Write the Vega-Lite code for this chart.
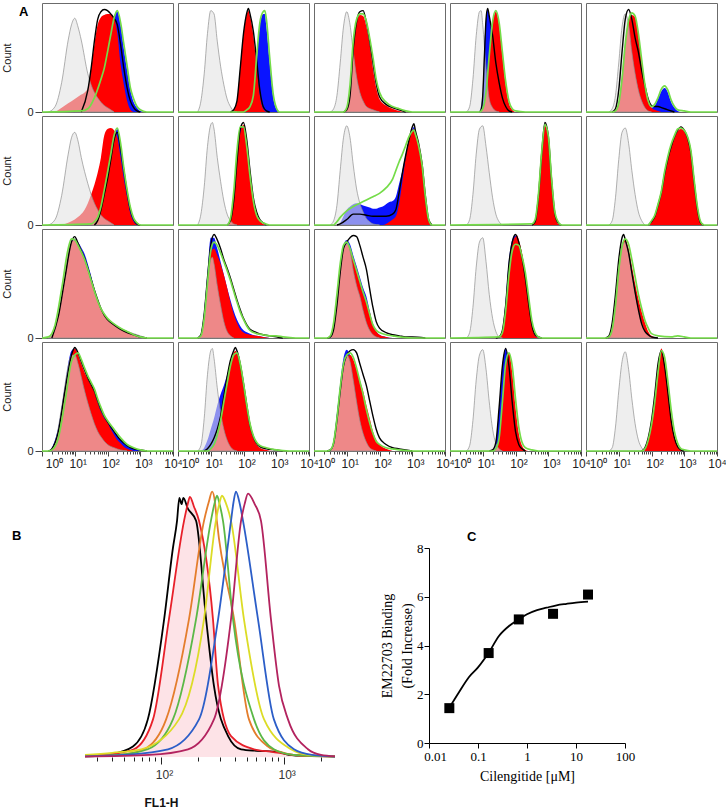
{
"$schema": "https://vega.github.io/schema/vega-lite/v6.json",
"background": "white",
"padding": {"left": 1, "top": 2, "right": 0, "bottom": 0},
"title": {"text": "A", "anchor": "start", "frame": "bounds", "dx": 17, "dy": 14, "offset": -12, "baseline": "alphabetic", "font": "Liberation Sans", "fontSize": 13, "fontWeight": "bold", "color": "#000"},
"datasets": {
"h": [
{"c":"HUVEC","i":"avb3","s":"g","x":[1.58,2.51,3.98,6.31,7.94,10,12.6,15.8,25.1,31.6,39.8,50.1,63.1,79.4,100,126,158],"y":[0,5,27,66,80,86,78,66,35,25,18,13,9,6,4,2,0]},
{"c":"HUVEC","i":"avb3","s":"r","x":[2.51,3.98,6.31,10,15.8,20,25.1,31.6,39.8,50.1,63.1,79.4,100,126,158,200,251,316,398,501,631],"y":[0,4,8,12,16,18,22,40,62,80,87,89,90,90,87,72,44,25,10,2,0]},
{"c":"HUVEC","i":"avb3","s":"b","x":[25.1,31.6,39.8,50.1,63.1,79.4,100,126,158,200,251,316,398,501,631,794,1000,1585],"y":[0,3,10,20,35,45,60,75,88,92,80,58,38,20,9,4,1,0]},
{"c":"HUVEC","i":"avb3","s":"k","x":[15.8,25.1,31.6,39.8,50.1,63.1,79.4,100,126,158,200,251,316,398,501,631,794,1000],"y":[0,20,40,65,85,92,94,93,90,86,80,62,40,22,10,4,1,0]},
{"c":"HUVEC","i":"avb3","s":"n","x":[1,15.8,25.1,39.8,63.1,79.4,100,126,158,200,251,316,398,501,631,794,1000,1585,10000],"y":[0,1,3,13,30,40,55,71,86,93,82,62,42,22,12,5,2,0,0]},
{"c":"M21","i":"avb3","s":"g","x":[3.98,5.01,6.31,7.94,10,12.6,15.8,20,25.1,31.6,39.8,50.1,63.1],"y":[0,10,35,72,93,90,65,42,25,12,5,1,0]},
{"c":"M21","i":"avb3","s":"r","x":[39.8,50.1,63.1,79.4,100,126,141,158,200,251,316,398,501],"y":[0,2,10,40,72,90,93,88,70,42,15,3,0]},
{"c":"M21","i":"avb3","s":"b","x":[126,158,200,251,316,398,447,501,631,794,1000,1259],"y":[0,2,10,45,80,90,90,78,45,15,3,0]},
{"c":"M21","i":"avb3","s":"k","x":[39.8,50.1,63.1,79.4,100,126,141,158,200,251,316,398,501,631],"y":[0,2,10,40,72,91,95,90,74,48,20,5,1,0]},
{"c":"M21","i":"avb3","s":"n","x":[1,100,126,158,200,251,316,398,447,501,631,794,1000,1259,10000],"y":[0,0,2,5,15,50,82,92,93,85,50,18,4,0,0]},
{"c":"A549","i":"avb3","s":"g","x":[3.16,3.98,5.01,6.31,7.94,10,12.6,15.8,20,25.1,31.6,39.8,63.1,100],"y":[0,3,15,45,78,92,80,55,32,18,10,5,2,0]},
{"c":"A549","i":"avb3","s":"r","x":[7.94,10,12.6,15.8,20,25.1,31.6,39.8,50.1,63.1,79.4,100,158,251,398,631],"y":[0,2,15,60,82,89,88,78,62,40,22,12,6,3,1,0]},
{"c":"A549","i":"avb3","s":"k","x":[7.94,10,12.6,15.8,20,25.1,31.6,39.8,50.1,63.1,79.4,100,158,251,398,631],"y":[0,2,15,58,83,92,93,82,65,45,26,14,7,4,2,0]},
{"c":"A549","i":"avb3","s":"n","x":[1,7.94,10,12.6,15.8,20,25.1,31.6,39.8,50.1,63.1,79.4,100,158,251,398,631,1000,10000],"y":[0,0,4,25,65,85,90,90,83,68,50,30,18,9,5,3,1,0,0]},
{"c":"HT29","i":"avb3","s":"g","x":[3.16,3.98,5.01,6.31,7.94,8.91,10,12.6,15.8,20,25.1,31.6],"y":[0,5,30,70,92,93,80,40,12,4,1,0]},
{"c":"HT29","i":"avb3","s":"b","x":[7.94,10,11.2,12.6,14.1,15.8,20,25.1,31.6,39.8,50.1,63.1],"y":[0,20,60,85,94,88,65,35,15,5,1,0]},
{"c":"HT29","i":"avb3","s":"r","x":[7.94,10,12.6,15.8,20,25.1,31.6,39.8,50.1,63.1,79.4,100],"y":[0,3,20,55,82,92,80,52,25,8,2,0]},
{"c":"HT29","i":"avb3","s":"k","x":[7.94,8.91,10,11.2,12.6,14.1,15.8,20,25.1,31.6,39.8,50.1,63.1,79.4],"y":[0,2,15,50,85,95,88,70,45,27,13,5,1,0]},
{"c":"HT29","i":"avb3","s":"n","x":[1,7.94,10,12.6,15.8,20,25.1,31.6,39.8,50.1,63.1,79.4,100,200,10000],"y":[0,0,3,18,52,83,93,82,55,28,10,3,1,0,0]},
{"c":"M24met","i":"avb3","s":"g","x":[5.01,6.31,7.94,10,12.6,15.8,20,25.1,31.6,39.8,50.1,63.1,79.4,100],"y":[0,3,15,45,78,90,80,55,35,20,10,4,1,0]},
{"c":"M24met","i":"avb3","s":"b","x":[7.94,10,12.6,15.8,20,25.1,31.6,39.8,50.1,63.1,79.4,100,126,158,200,251,316,398,501,631,794],"y":[0,8,30,60,80,85,82,65,40,20,9,4,6,12,19,22,18,9,4,1,0]},
{"c":"M24met","i":"avb3","s":"r","x":[6.31,7.94,10,12.6,15.8,20,25.1,31.6,39.8,50.1,63.1,79.4,100,126,200],"y":[0,2,10,35,65,85,89,87,70,45,22,10,4,2,0]},
{"c":"M24met","i":"avb3","s":"k","x":[6.31,7.94,10,12.6,15.8,20,25.1,31.6,39.8,50.1,63.1,79.4,100,126,158,200,316,501],"y":[0,3,20,55,85,94,85,68,55,38,24,12,6,5,5,4,2,0]},
{"c":"M24met","i":"avb3","s":"n","x":[1,6.31,7.94,10,12.6,15.8,20,25.1,31.6,39.8,50.1,63.1,79.4,100,126,158,200,251,316,398,501,631,1000,1585,10000],"y":[0,0,1,8,30,62,84,91,88,72,48,25,10,5,7,13,21,24,20,11,5,2,1,0,0]},
{"c":"HUVEC","i":"avb5","s":"g","x":[1.58,2.51,3.98,6.31,7.94,10,12.6,15.8,25.1,31.6,39.8,50.1,63.1,79.4,100,126,158],"y":[0,5,27,65,80,85,77,62,38,28,20,14,9,6,4,2,0]},
{"c":"HUVEC","i":"avb5","s":"r","x":[3.98,6.31,10,15.8,20,25.1,31.6,39.8,50.1,63.1,79.4,100,126,158,200,251,316,398,501,631,794],"y":[0,2,5,10,14,20,28,37,48,62,82,88,89,87,80,62,42,25,10,3,0]},
{"c":"HUVEC","i":"avb5","s":"b","x":[39.8,50.1,63.1,79.4,100,126,158,200,251,316,398,501,631,794,1000],"y":[0,5,15,30,45,62,80,88,72,50,30,14,5,1,0]},
{"c":"HUVEC","i":"avb5","s":"k","x":[39.8,50.1,63.1,79.4,100,126,158,200,251,316,398,501,631,794,1000],"y":[0,4,14,28,42,60,78,85,70,50,30,14,5,1,0]},
{"c":"HUVEC","i":"avb5","s":"n","x":[1,31.6,39.8,50.1,63.1,79.4,100,126,158,200,251,316,398,501,631,794,1000,10000],"y":[0,1,3,7,17,32,48,65,82,89,75,52,32,16,6,2,0,0]},
{"c":"M21","i":"avb5","s":"g","x":[3.98,5.01,6.31,7.94,10,11.2,12.6,15.8,20,25.1,31.6,39.8,50.1,63.1],"y":[0,10,35,72,92,94,88,62,40,22,10,4,1,0]},
{"c":"M21","i":"avb5","s":"b","x":[31.6,39.8,50.1,63.1,79.4,100,126,158,200,251,316,398],"y":[0,5,28,65,90,90,72,45,20,8,3,0]},
{"c":"M21","i":"avb5","s":"r","x":[31.6,39.8,50.1,63.1,79.4,100,126,158,200,251,316,398,501],"y":[0,5,25,60,85,92,75,48,22,10,4,1,0]},
{"c":"M21","i":"avb5","s":"k","x":[31.6,39.8,50.1,63.1,79.4,100,126,158,200,251,316,398,501],"y":[0,4,22,58,88,94,78,50,25,12,5,2,0]},
{"c":"M21","i":"avb5","s":"n","x":[1,31.6,39.8,50.1,63.1,79.4,100,126,158,200,251,316,398,631,10000],"y":[0,0,6,30,68,90,90,72,45,22,9,4,2,0,0]},
{"c":"A549","i":"avb5","s":"g","x":[3.16,3.98,5.01,6.31,7.94,10,12.6,15.8,20,25.1,31.6,39.8,50.1,63.1,100],"y":[0,4,18,50,80,91,80,55,33,20,12,6,3,1,0]},
{"c":"A549","i":"avb5","s":"b","x":[5.01,6.31,7.94,10,12.6,15.8,20,25.1,31.6,39.8,50.1,63.1,79.4,100,126,158,200,251,316,398,501,631,794,1000,1122,1259,1585,1995,2512,3162,3981],"y":[0,2,8,14,17,19,20,19,18,17,16,15,15,16,17,19,21,22,26,38,50,65,78,88,90,85,72,55,25,4,0]},
{"c":"A549","i":"avb5","s":"r","x":[126,158,200,251,316,398,501,631,794,1000,1122,1259,1585,1995,2512,3162,3981],"y":[0,1,3,5,8,20,40,62,78,87,88,84,72,55,25,4,0]},
{"c":"A549","i":"avb5","s":"k","x":[5.01,6.31,10,15.8,25.1,39.8,63.1,100,158,251,316,398,501,631,794,1000,1122,1259,1585,1995,2512,3162,3981],"y":[0,1,5,10,10,9,8,8,8,10,14,30,48,64,78,90,93,86,74,56,27,5,0]},
{"c":"A549","i":"avb5","s":"n","x":[1,3.98,5.01,6.31,10,15.8,25.1,39.8,63.1,100,158,251,316,398,501,631,794,1000,1122,1259,1585,1995,2512,3162,3981,10000],"y":[0,0,3,7,13,17,20,23,26,29,34,42,50,58,65,73,81,86,87,83,72,55,26,5,0,0]},
{"c":"HT29","i":"avb5","s":"g","x":[3.16,3.98,5.01,6.31,7.94,10,12.6,15.8,20,25.1,31.6,39.8],"y":[0,5,28,65,88,91,72,48,25,10,3,0]},
{"c":"HT29","i":"avb5","s":"r","x":[316,398,501,631,794,1000,1259,1585,1995,2512],"y":[0,3,25,65,91,80,40,10,1,0]},
{"c":"HT29","i":"avb5","s":"k","x":[316,398,501,631,794,1000,1259,1585,1995,2512],"y":[0,3,26,66,94,82,42,11,2,0]},
{"c":"HT29","i":"avb5","s":"n","x":[1,316,398,501,631,794,1000,1259,1585,1995,2512,10000],"y":[0,1,5,28,67,92,82,43,12,3,0,0]},
{"c":"M24met","i":"avb5","s":"g","x":[5.01,6.31,7.94,10,12.6,15.8,20,25.1,31.6,39.8,50.1,63.1],"y":[0,4,25,60,85,89,75,50,28,12,4,0]},
{"c":"M24met","i":"avb5","s":"r","x":[79.4,100,126,158,200,251,316,398,501,631,794,1000,1259,1585,1995,2512,3162,3981],"y":[0,3,8,18,30,48,62,72,80,86,88,86,80,68,40,15,2,0]},
{"c":"M24met","i":"avb5","s":"k","x":[79.4,100,126,158,200,251,316,398,501,631,794,1000,1259,1585,1995,2512,3162,3981],"y":[0,3,8,18,30,47,61,72,81,87,90,87,80,67,40,15,2,0]},
{"c":"M24met","i":"avb5","s":"n","x":[1,79.4,100,126,158,200,251,316,398,501,631,794,1000,1259,1585,1995,2512,3162,3981,10000],"y":[0,0,4,9,19,31,49,63,74,82,88,89,87,81,69,42,17,3,0,0]},
{"c":"HUVEC","i":"avb6","s":"b","x":[2,3.16,5.01,7.94,10,12.6,15.8,20,25.1,31.6,39.8,50.1,63.1,79.4,100,158,251,398,631,1000,1585],"y":[0,20,56,88,91,88,83,77,68,57,45,35,27,22,18,12,8,5,3,1,0]},
{"c":"HUVEC","i":"avb6","s":"r","x":[1.58,2,2.51,3.16,3.98,5.01,6.31,7.94,10,12.6,15.8,20,25.1,31.6,39.8,50.1,63.1,79.4,100,158,251,398,631,1000,1585],"y":[0,2,8,22,40,58,78,88,90,86,80,72,62,52,42,33,26,21,17,12,8,5,3,1,0]},
{"c":"HUVEC","i":"avb6","s":"g","x":[1.58,2,2.51,3.16,3.98,5.01,6.31,7.94,10,12.6,15.8,20,25.1,31.6,39.8,50.1,63.1,79.4,100,158,251,398,631,1000,1585],"y":[0,3,9,23,41,59,79,89,91,87,81,73,63,53,43,34,27,22,18,13,9,6,4,2,0]},
{"c":"HUVEC","i":"avb6","s":"k","x":[2,3.16,5.01,7.94,10,12.6,15.8,20,25.1,31.6,39.8,50.1,63.1,79.4,100,158,251,398,631,1000,1585],"y":[0,20,55,88,93,87,80,73,64,54,44,35,27,21,17,12,8,5,3,1,0]},
{"c":"HUVEC","i":"avb6","s":"n","x":[1,1.58,2.51,3.98,6.31,7.94,10,12.6,15.8,20,25.1,31.6,39.8,50.1,63.1,79.4,100,158,251,398,631,1000,1585,10000],"y":[0,1,12,45,82,91,90,85,79,72,63,53,43,34,27,22,18,13,9,6,3,1,0,0]},
{"c":"M21","i":"avb6","s":"g","x":[3.98,5.01,6.31,7.94,10,11.2,12.6,15.8,20,25.1,31.6,39.8,50.1],"y":[0,3,20,50,72,74,68,48,30,15,6,2,0]},
{"c":"M21","i":"avb6","s":"b","x":[3.98,5.01,6.31,7.94,10,12.6,15.8,20,25.1,31.6,39.8,50.1,63.1,79.4,100,158,251,398,631],"y":[0,4,25,60,92,92,82,70,58,46,35,25,17,11,7,4,2,1,0]},
{"c":"M21","i":"avb6","s":"r","x":[3.98,5.01,6.31,7.94,10,12.6,15.8,20,25.1,31.6,39.8,50.1,63.1,79.4,100,158,251,398,631],"y":[0,3,20,52,78,82,76,68,58,46,33,22,14,8,5,3,2,1,0]},
{"c":"M21","i":"avb6","s":"k","x":[3.98,5.01,6.31,7.94,10,12.6,15.8,20,25.1,31.6,39.8,50.1,63.1,79.4,100,126,158,251,398,631,1000,1585],"y":[0,3,22,55,85,95,90,82,72,64,55,45,35,26,18,12,8,5,3,2,1,0]},
{"c":"M21","i":"avb6","s":"n","x":[1,3.98,5.01,6.31,7.94,10,12.6,15.8,20,25.1,31.6,39.8,50.1,63.1,79.4,100,126,158,251,398,631,1000,1585,3981,10000],"y":[0,0,2,18,50,80,88,85,78,70,62,53,43,33,24,17,11,7,4,3,2,2,1,0,0]},
{"c":"A549","i":"avb6","s":"g","x":[3.16,3.98,5.01,6.31,7.94,10,12.6,15.8,20,25.1,31.6,39.8,50.1,63.1,79.4,100],"y":[0,10,35,65,83,89,80,62,48,38,25,14,7,3,1,0]},
{"c":"A549","i":"avb6","s":"b","x":[3.16,3.98,5.01,6.31,7.94,10,12.6,15.8,20,25.1,31.6,39.8,50.1,63.1,79.4,100,158,251],"y":[0,10,35,65,85,90,86,76,66,56,46,38,25,13,6,3,1,0]},
{"c":"A549","i":"avb6","s":"r","x":[3.16,3.98,5.01,6.31,7.94,10,12.6,15.8,20,25.1,31.6,39.8,50.1,63.1,79.4,100,158,251],"y":[0,8,30,60,80,86,82,72,62,50,40,32,24,12,6,3,1,0]},
{"c":"A549","i":"avb6","s":"k","x":[2.51,3.16,3.98,5.01,6.31,7.94,10,12.6,15.8,20,25.1,31.6,39.8,50.1,63.1,79.4,100,158,251,398,631,1000,2512],"y":[0,1,8,30,60,82,88,92,94,93,85,74,63,45,28,15,9,5,3,2,1,1,0]},
{"c":"A549","i":"avb6","s":"n","x":[1,2.51,3.16,3.98,5.01,6.31,7.94,10,12.6,15.8,20,25.1,31.6,39.8,50.1,63.1,79.4,100,158,251,398,1000,10000],"y":[0,0,2,14,40,68,85,88,82,72,62,52,42,33,22,12,7,5,3,2,1,0,0]},
{"c":"HT29","i":"avb6","s":"g","x":[3.16,3.98,5.01,6.31,7.94,10,12.6,15.8,20,25.1,31.6,39.8],"y":[0,5,28,65,88,92,70,40,18,6,1,0]},
{"c":"HT29","i":"avb6","s":"b","x":[25.1,31.6,39.8,50.1,63.1,79.4,100,126,158,200,251,316,398,501],"y":[0,1,8,35,72,90,94,86,70,50,28,10,2,0]},
{"c":"HT29","i":"avb6","s":"r","x":[31.6,39.8,50.1,63.1,79.4,100,112,126,158,200,251,316,398,501],"y":[0,5,25,62,86,93,94,90,78,60,35,12,2,0]},
{"c":"HT29","i":"avb6","s":"k","x":[25.1,31.6,39.8,50.1,63.1,79.4,100,126,158,200,251,316,398,501,631],"y":[0,1,7,30,68,88,95,88,74,55,32,12,3,1,0]},
{"c":"HT29","i":"avb6","s":"n","x":[1,31.6,39.8,50.1,63.1,79.4,100,126,158,200,251,316,398,501,631,10000],"y":[0,1,5,25,58,80,86,85,75,60,38,16,5,1,0,0]},
{"c":"M24met","i":"avb6","s":"g","x":[5.01,6.31,7.94,10,12.6,15.8,20,25.1,31.6,39.8,50.1,63.1,79.4,100],"y":[0,8,30,62,84,88,78,60,40,26,14,6,2,0]},
{"c":"M24met","i":"avb6","s":"r","x":[3.98,5.01,6.31,7.94,10,12.6,15.8,20,25.1,31.6,39.8,50.1,63.1,79.4,100,158],"y":[0,1,10,33,64,86,90,82,66,50,36,24,14,6,2,0]},
{"c":"M24met","i":"avb6","s":"k","x":[3.98,5.01,6.31,7.94,10,12.6,14.1,15.8,20,25.1,31.6,39.8,50.1,63.1,79.4,100,158],"y":[0,2,14,40,72,92,95,90,78,60,42,26,13,6,3,1,0]},
{"c":"M24met","i":"avb6","s":"n","x":[1,3.98,5.01,6.31,7.94,10,12.6,15.8,20,25.1,31.6,39.8,50.1,63.1,79.4,100,158,398,631,1000,1585,10000],"y":[0,0,1,8,30,62,84,91,86,72,56,40,27,16,9,4,2,1,2,1,0,0]},
{"c":"HUVEC","i":"avb8","s":"g","x":[1.58,2.51,3.98,6.31,7.94,10,12.6,15.8,20,25.1,31.6,39.8,50.1,63.1,79.4,100,158,251,398],"y":[0,8,40,78,88,88,80,68,55,44,34,25,18,13,9,6,3,1,0]},
{"c":"HUVEC","i":"avb8","s":"b","x":[1.58,2,3.16,5.01,7.94,10,12.6,15.8,20,25.1,31.6,39.8,50.1,63.1,79.4,100,158,251,398,631,1000,1585],"y":[0,3,22,60,92,94,86,78,70,64,58,52,44,37,31,27,18,11,6,3,1,0]},
{"c":"HUVEC","i":"avb8","s":"r","x":[1.58,2,3.16,5.01,7.94,10,12.6,15.8,20,25.1,31.6,39.8,50.1,63.1,79.4,100,126,158,200,251,316,398,631],"y":[0,2,18,55,88,94,88,80,72,66,60,54,44,36,30,26,20,15,10,7,4,2,0]},
{"c":"HUVEC","i":"avb8","s":"k","x":[1.58,2,3.16,5.01,7.94,10,12.6,15.8,20,25.1,31.6,39.8,50.1,63.1,79.4,100,158,251,398,631,1000,1585],"y":[0,2,18,55,88,95,90,82,74,67,61,55,46,38,32,27,18,10,5,2,1,0]},
{"c":"HUVEC","i":"avb8","s":"n","x":[1,1.58,2,3.16,5.01,7.94,10,12.6,15.8,20,25.1,31.6,39.8,50.1,63.1,79.4,100,158,251,398,631,1000,1585,10000],"y":[0,0,1,12,45,82,88,90,84,76,69,63,57,48,40,33,28,20,12,6,3,1,0,0]},
{"c":"M21","i":"avb8","s":"g","x":[3.98,5.01,6.31,7.94,10,11.2,12.6,15.8,20,25.1,31.6,39.8,50.1,63.1],"y":[0,5,30,70,92,94,85,58,35,20,10,4,1,0]},
{"c":"M21","i":"avb8","s":"b","x":[5.01,6.31,7.94,10,12.6,15.8,20,25.1,31.6,39.8,50.1,56.2,63.1,79.4,100,126,158,200,251,398,631],"y":[0,3,10,20,30,42,52,60,70,80,88,90,88,76,58,38,20,10,5,1,0]},
{"c":"M21","i":"avb8","s":"r","x":[7.94,10,12.6,15.8,20,25.1,31.6,39.8,50.1,56.2,63.1,79.4,100,126,158,200,251,316,501,794],"y":[0,2,5,12,30,52,68,82,90,92,90,78,60,40,22,12,6,3,1,0]},
{"c":"M21","i":"avb8","s":"k","x":[6.31,7.94,10,12.6,15.8,20,25.1,31.6,39.8,50.1,56.2,63.1,79.4,100,126,158,200,251,316,501,1000,1585],"y":[0,2,6,12,20,32,50,68,83,92,95,92,80,62,42,24,13,7,4,2,1,0]},
{"c":"M21","i":"avb8","s":"n","x":[1,7.94,10,12.6,15.8,20,25.1,31.6,39.8,50.1,63.1,79.4,100,126,158,200,251,316,501,1000,2512,10000],"y":[0,0,2,6,15,28,45,62,78,88,90,80,62,42,25,14,8,5,3,1,0,0]},
{"c":"A549","i":"avb8","s":"g","x":[3.16,3.98,5.01,6.31,7.94,10,12.6,15.8,20,25.1,31.6,39.8,50.1,63.1,79.4],"y":[0,8,30,55,78,88,82,65,45,28,16,8,3,1,0]},
{"c":"A549","i":"avb8","s":"b","x":[2.51,3.16,3.98,5.01,6.31,7.94,10,12.6,15.8,20,25.1,31.6,39.8,50.1,63.1,79.4,100,158,251],"y":[0,1,10,35,62,85,93,88,78,66,54,42,30,20,12,6,3,1,0]},
{"c":"A549","i":"avb8","s":"r","x":[3.16,3.98,5.01,6.31,7.94,10,12.6,15.8,20,25.1,31.6,39.8,50.1,63.1,79.4,100,158,251],"y":[0,6,25,52,75,86,88,84,75,65,55,42,30,18,10,6,2,0]},
{"c":"A549","i":"avb8","s":"k","x":[2.51,3.16,3.98,5.01,6.31,7.94,10,12.6,15.8,20,25.1,31.6,39.8,50.1,63.1,79.4,100,158,251,398,631,1000],"y":[0,1,7,28,55,78,88,92,93,90,80,70,60,46,32,20,12,6,3,2,1,0]},
{"c":"A549","i":"avb8","s":"n","x":[1,2.51,3.16,3.98,5.01,6.31,7.94,10,12.6,15.8,20,25.1,31.6,39.8,50.1,63.1,79.4,100,158,251,398,1000,10000],"y":[0,0,1,8,30,58,80,88,90,86,76,64,52,38,26,16,9,6,3,2,1,0,0]},
{"c":"HT29","i":"avb8","s":"g","x":[3.16,3.98,5.01,6.31,7.94,10,12.6,15.8,20,25.1,31.6,39.8],"y":[0,5,28,65,88,93,75,45,20,7,2,0]},
{"c":"HT29","i":"avb8","s":"b","x":[15.8,20,25.1,31.6,39.8,50.1,63.1,79.4,100,126,158,200],"y":[0,1,8,40,78,94,75,40,14,4,1,0]},
{"c":"HT29","i":"avb8","s":"r","x":[20,25.1,31.6,39.8,50.1,63.1,79.4,100,126,158,200,251],"y":[0,2,10,40,75,90,72,40,16,5,1,0]},
{"c":"HT29","i":"avb8","s":"k","x":[15.8,20,25.1,31.6,39.8,50.1,63.1,79.4,100,126,158,200],"y":[0,1,8,40,78,94,78,45,18,6,2,0]},
{"c":"HT29","i":"avb8","s":"n","x":[1,20,25.1,31.6,39.8,50.1,63.1,79.4,100,126,158,200,316,501,10000],"y":[0,0,2,12,45,80,90,78,48,22,8,3,1,0,0]},
{"c":"M24met","i":"avb8","s":"g","x":[5.01,6.31,7.94,10,12.6,15.8,20,25.1,31.6,39.8,50.1,63.1],"y":[0,3,22,55,82,91,75,48,25,10,3,0]},
{"c":"M24met","i":"avb8","s":"r","x":[50.1,63.1,79.4,100,126,158,200,251,316,398,501,631,794,1000],"y":[0,3,12,26,48,75,94,82,58,32,14,4,1,0]},
{"c":"M24met","i":"avb8","s":"k","x":[50.1,63.1,79.4,100,126,158,200,251,316,398,501,631,794,1000],"y":[0,3,12,28,52,80,92,78,54,28,12,4,1,0]},
{"c":"M24met","i":"avb8","s":"n","x":[1,50.1,63.1,79.4,100,126,158,200,251,316,398,501,631,794,1000,1585,10000],"y":[0,0,2,10,24,45,72,92,86,64,38,18,7,2,1,0,0]}
],
"fl": [
{"s":"black","x":[24,40,59,78,106,125,135,141,147,152,165,193,233,270,352,449,600,900,1100,1500,2620],"y":[0.5,1.5,5,18,66,100,113,124,121,124,119,113,66,34,10,3.7,3,2.5,1,0.5,0.3]},
{"s":"red","x":[24,40,60,86,116,154,165,172,185,204,265,292,372,573,800,1200,2620],"y":[0.5,1.5,3.7,18,66,113,121,124.5,120,113,66,34,10,3.7,2.5,1,0.3]},
{"s":"orange","x":[24,45,72.6,110,169,224,245,261,275,285,394,521,745,1000,1500,2620],"y":[0.3,1,3.7,18,66,113,122,127,122,113,66,18,5,2,0.5,0.2]},
{"s":"green","x":[24,45,78,125,193,255,272,286,300,320,386,573,832,1200,2620],"y":[0.3,1,3.7,18,66,113,121,125,121,113,66,18,3.7,1,0.2]},
{"s":"yellow","x":[24,40,69,140,224,280,298,314,340,372,474,692,1148,1600,2620],"y":[1,2,3.7,18,66,113,121,125,121,113,66,18,3.7,1,0.3]},
{"s":"blue","x":[24,50,114,204,292,372,390,408,435,466,617,832,1213,1700,2620],"y":[0.3,1,3.7,18,66,113,122,127,122,113,66,18,3.7,1,0.2]},
{"s":"magenta","x":[24,80,166,270,372,449,480,512,580,653,787,916,1084,1578,2014,2620],"y":[0.2,1,3.7,18,66,113,121,126,121,113,66,34,18,3.7,1,0.3]}
],
"cfit": [
{"dose":0.027,"fold":1.5},{"dose":0.04,"fold":2.05},{"dose":0.065,"fold":2.7},{"dose":0.1,"fold":3.1},{"dose":0.165,"fold":3.7},{"dose":0.27,"fold":4.4},{"dose":0.43,"fold":4.8},{"dose":0.68,"fold":5.07},{"dose":1,"fold":5.28},{"dose":1.6,"fold":5.45},{"dose":2.5,"fold":5.55},{"dose":4,"fold":5.65},{"dose":6.4,"fold":5.71},{"dose":10,"fold":5.76},{"dose":17.6,"fold":5.8}
],
"cpts": [
{"dose":0.026,"fold":1.43},{"dose":0.165,"fold":3.69},{"dose":0.68,"fold":5.07},{"dose":3.4,"fold":5.3},{"dose":17.6,"fold":6.09}
]
},
"vconcat": [
{
"data": {"name": "h"},
"transform": [{"flatten": ["x", "y"]}],
"facet": {
"row": {"field": "i", "type": "nominal", "title": null, "sort": ["avb3","avb5","avb6","avb8"], "header": {"labels": false, "title": null}},
"column": {"field": "c", "type": "nominal", "title": null, "sort": ["HUVEC","M21","A549","HT29","M24met"], "header": {"labels": false, "title": null}}
},
"spacing": {"row": 4, "column": 5},
"bounds": "flush",
"spec": {
"width": 131,
"height": 109,
"encoding": {
"x": {"field": "x", "type": "quantitative", "scale": {"type": "log", "domain": [1, 10000]},
"axis": {"values": [1,2,3,4,5,6,7,8,9,10,20,30,40,50,60,70,80,90,100,200,300,400,500,600,700,800,900,1000,2000,3000,4000,5000,6000,7000,8000,9000,10000],
"labelExpr": "datum.value == 1 ? '10⁰' : datum.value == 10 ? '10¹' : datum.value == 100 ? '10²' : datum.value == 1000 ? '10³' : datum.value == 10000 ? '10⁴' : ''",
"labelFlush": false, "labelOverlap": false,
"tickSize": {"condition": {"test": "datum.value == 1 || datum.value == 10 || datum.value == 100 || datum.value == 1000 || datum.value == 10000", "value": 5}, "value": 3},
"labelOffset": {"condition": [{"test": "datum.value == 1", "value": 12}, {"test": "datum.value == 10000", "value": 0}], "value": 3},
"labelFont": "Liberation Sans", "labelFontSize": 12, "labelColor": "#222", "labelPadding": 2,
"tickColor": "#444", "domainColor": "#3b5e32", "title": null, "grid": false}},
"y": {"field": "y", "type": "quantitative", "scale": {"domain": [0, 100]},
"axis": {"values": [0], "title": "Count", "titleFont": "Liberation Sans", "titleFontSize": 11, "titleFontWeight": "normal", "titleColor": "#222", "titlePadding": 14,
"labelFont": "Liberation Sans", "labelFontSize": 11, "labelColor": "#222", "labelPadding": 2, "tickSize": 7, "tickColor": "#444", "domain": false, "grid": false}}
},
"layer": [
{"transform": [{"filter": "datum.s == 'b'"}], "mark": {"type": "area", "color": "#0a14ff", "interpolate": "monotone"}},
{"transform": [{"filter": "datum.s == 'r'"}], "mark": {"type": "area", "color": "#ff0000", "interpolate": "monotone"}},
{"transform": [{"filter": "datum.s == 'g'"}], "mark": {"type": "area", "fill": "#e2e2e2", "fillOpacity": 0.6, "stroke": "#8f8f8f", "strokeWidth": 0.7, "interpolate": "monotone"}},
{"transform": [{"filter": "datum.s == 'k'"}], "mark": {"type": "line", "color": "#000000", "strokeWidth": 1.4, "interpolate": "monotone"}},
{"transform": [{"filter": "datum.s == 'n'"}], "mark": {"type": "line", "color": "#74dc48", "strokeWidth": 1.7, "interpolate": "monotone"}},
{"transform": [{"filter": "datum.i == 'avb3' && datum.s == 'g'"}, {"aggregate": [{"op": "count", "as": "n"}], "groupby": ["c", "i"]}],
 "mark": {"type": "text", "align": "right", "baseline": "middle", "font": "Liberation Serif", "fontSize": 11, "fontWeight": "bold", "color": "#111"},
 "encoding": {"x": {"datum": 7000}, "y": {"datum": 90}, "text": {"field": "c"}}},
{"transform": [{"filter": "datum.c == 'HUVEC' && datum.i == 'avb3' && datum.s == 'g'"}, {"aggregate": [{"op": "count", "as": "n"}], "groupby": ["c", "i"]}],
 "mark": {"type": "text", "align": "right", "baseline": "middle", "font": "Liberation Serif", "fontSize": 15, "fontWeight": "bold", "color": "#111"},
 "encoding": {"x": {"datum": 7000}, "y": {"datum": 20.5}, "text": {"field": "i"}}},
{"transform": [{"filter": "datum.c == 'HUVEC' && datum.i == 'avb5' && datum.s == 'g'"}, {"aggregate": [{"op": "count", "as": "n"}], "groupby": ["c", "i"]}],
 "mark": {"type": "text", "align": "right", "baseline": "middle", "font": "Liberation Serif", "fontSize": 15, "fontWeight": "bold", "color": "#111"},
 "encoding": {"x": {"datum": 7000}, "y": {"datum": 15.7}, "text": {"field": "i"}}},
{"transform": [{"filter": "datum.c == 'HUVEC' && datum.i == 'avb6' && datum.s == 'g'"}, {"aggregate": [{"op": "count", "as": "n"}], "groupby": ["c", "i"]}],
 "mark": {"type": "text", "align": "right", "baseline": "middle", "font": "Liberation Serif", "fontSize": 15, "fontWeight": "bold", "color": "#111"},
 "encoding": {"x": {"datum": 7000}, "y": {"datum": 9}, "text": {"field": "i"}}},
{"transform": [{"filter": "datum.c == 'HUVEC' && datum.i == 'avb8' && datum.s == 'g'"}, {"aggregate": [{"op": "count", "as": "n"}], "groupby": ["c", "i"]}],
 "mark": {"type": "text", "align": "right", "baseline": "middle", "font": "Liberation Serif", "fontSize": 15, "fontWeight": "bold", "color": "#111"},
 "encoding": {"x": {"datum": 7000}, "y": {"datum": 17}, "text": {"field": "i"}}}
]
}
},
{
"hconcat": [
{
"width": 293,
"height": 209,
"view": {"stroke": null},
"title": {"text": "B", "anchor": "start", "frame": "group", "dx": -30, "offset": -65, "baseline": "alphabetic", "font": "Liberation Sans", "fontSize": 13, "fontWeight": "bold", "color": "#000"},
"encoding": {
"x": {"field": "x", "type": "quantitative", "scale": {"type": "log", "domain": [10.7, 2620]},
"axis": {"domain": false, "values": [30,40,50,60,70,80,90,100,200,300,400,500,600,700,800,900,1000,2000],
"labelExpr": "datum.value == 100 ? '10²' : datum.value == 1000 ? '10³' : ''",
"labelFlush": false, "labelOverlap": false,
"tickSize": {"condition": {"test": "datum.value == 100 || datum.value == 1000", "value": 7}, "value": 4},
"tickColor": "#222", "labelFont": "Liberation Sans", "labelFontSize": 12, "labelColor": "#333", "labelPadding": 5, "labelOffset": 3,
"title": "FL1-H", "titleFont": "Liberation Sans", "titleFontSize": 12, "titleFontWeight": "bold", "titleColor": "#111",
"titleX": 119, "titleY": 45, "titleAlign": "center", "titleBaseline": "middle", "grid": false}},
"y": {"field": "y", "type": "quantitative", "scale": {"domain": [0, 100]}, "axis": null}
},
"layer": [
{"data": {"name": "fl"}, "transform": [{"flatten": ["x", "y"]}, {"filter": "datum.s == 'red'"}], "mark": {"type": "area", "fill": "#fde3e7", "interpolate": "monotone"}},
{"data": {"name": "fl"}, "transform": [{"flatten": ["x", "y"]}], "mark": {"type": "line", "strokeWidth": 1.8, "interpolate": "monotone"},
 "encoding": {"color": {"field": "s", "type": "nominal", "scale": {"domain": ["black","red","orange","green","yellow","blue","magenta"], "range": ["#000000","#e8202a","#e47d2c","#5bb847","#dcdc26","#2c5ec8","#b3235f"]}, "legend": null}}},
{"data": {"values": [{"t": 1}]}, "mark": {"type": "rule", "color": "#111", "strokeWidth": 2}, "encoding": {"x": {"datum": 24}, "x2": {"datum": 2620}, "y": {"datum": 0}}}
]
},
{
"width": 196,
"height": 195,
"view": {"stroke": null},
"title": {"text": "C", "anchor": "start", "frame": "group", "dx": 38, "offset": -12, "baseline": "alphabetic", "font": "Liberation Sans", "fontSize": 13, "fontWeight": "bold", "color": "#000"},
"encoding": {
"x": {"field": "dose", "type": "quantitative", "scale": {"type": "log", "domain": [0.01, 100]},
"axis": {"values": [0.01, 0.1, 1, 10, 100], "format": "~g", "title": "Cilengitide [μM]", "labelFlush": false, "labelOverlap": false,
"labelOffset": {"condition": {"test": "datum.value < 0.05", "value": 6}, "value": 0},
"labelFont": "Liberation Serif", "labelFontSize": 13, "labelColor": "#000", "labelPadding": 2, "tickSize": 5, "tickColor": "#000", "domainColor": "#000",
"titleFont": "Liberation Serif", "titleFontSize": 14, "titleFontWeight": "normal", "titleColor": "#000", "titlePadding": 6, "grid": false}},
"y": {"field": "fold", "type": "quantitative", "scale": {"domain": [0, 8]},
"axis": {"values": [0, 2, 4, 6, 8], "title": ["EM22703 Binding", "(Fold Increase)"],
"labelFont": "Liberation Serif", "labelFontSize": 13, "labelColor": "#000", "labelPadding": 1, "tickSize": 5, "tickColor": "#000", "domainColor": "#000",
"titleFont": "Liberation Serif", "titleFontSize": 14, "titleFontWeight": "normal", "titleColor": "#000", "titlePadding": 2, "titleLineHeight": 20, "grid": false}}
},
"layer": [
{"data": {"name": "cfit"}, "mark": {"type": "line", "color": "#000", "strokeWidth": 1.8, "interpolate": "monotone"}},
{"data": {"name": "cpts"}, "mark": {"type": "point", "shape": "square", "filled": true, "color": "#000", "size": 100, "opacity": 1}}
]
}
],
"spacing": 41
}
],
"spacing": 18,
"config": {
"view": {"stroke": "#6b6b6b", "strokeWidth": 1},
"axis": {"grid": false}
}
}
